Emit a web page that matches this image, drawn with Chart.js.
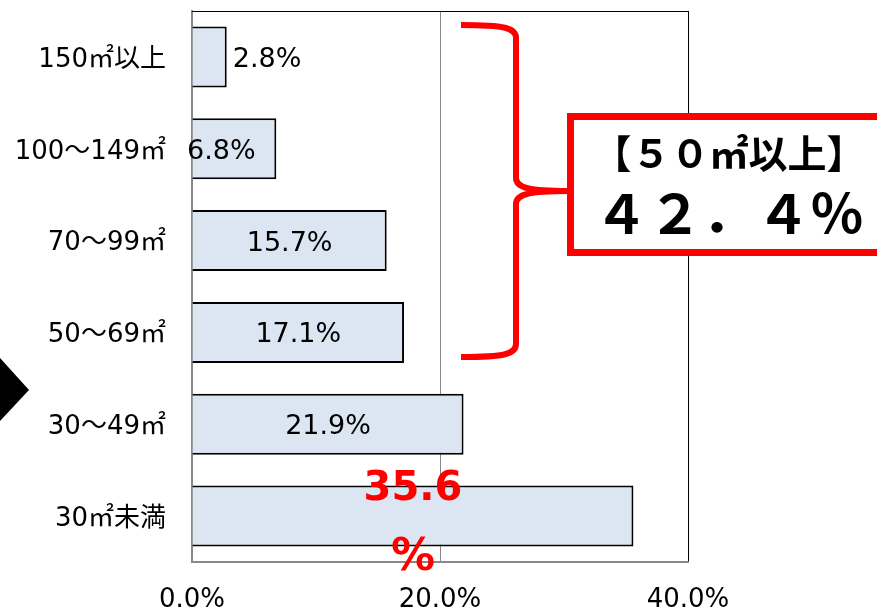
<!DOCTYPE html>
<html>
<head>
<meta charset="utf-8">
<script src="https://cdn.jsdelivr.net/npm/chart.js@4"></script>
<style>
  html, body { margin: 0; padding: 0; background: #fff; }
  #wrap { width: 877px; height: 612px; position: relative; }
</style>
</head>
<body>
<div id="wrap"><canvas id="chart"></canvas></div>
<script>
// data
var categories = ['150㎡以上', '100～149㎡', '70～99㎡', '50～69㎡', '30～49㎡', '30㎡未満'];
var shares = [2.8, 6.8, 15.7, 17.1, 21.9, 35.6];
var xTicks = [0, 20, 40];
var bracketTitle = '【５０㎡以上】';
var bracketValue = '４２．４％';

var baseFont = "'DejaVu Sans', 'Noto Sans CJK JP', sans-serif";
var cjkFont = "'Noto Sans CJK JP', 'DejaVu Sans', sans-serif";

// value labels on bars
var barLabels = {
    id: 'barLabels',
    afterDatasetsDraw: function(chart) {
        var ctx = chart.ctx;
        var meta = chart.getDatasetMeta(0);
        ctx.save();
        ctx.textBaseline = 'middle';
        meta.data.forEach(function(bar, i) {
            var v = shares[i];
            var txt = v.toFixed(1) + '%';
            var y = bar.y + 3;
            if (i == shares.length - 1) {
                // biggest one is highlighted in red, wrapped
                ctx.fillStyle = '#ff0000';
                ctx.font = 'bold 40px ' + baseFont;
                ctx.textAlign = 'center';
                var cx = (bar.x + bar.base) / 2;
                ctx.fillText(v.toFixed(1), cx, y - 29);
                ctx.font = 'bold 44px ' + baseFont;
                ctx.fillText('%', cx, y + 39);
                return;
            }
            ctx.fillStyle = '#000';
            ctx.font = '27px ' + baseFont;
            if (v < 5) {
                ctx.textAlign = 'left';
                ctx.fillText(txt, bar.x + 6, y);
            } else if (v < 10) {
                // short bar: excel pushed this one a bit left
                ctx.textAlign = 'center';
                ctx.fillText(txt, (bar.x + bar.base) / 2 - 13, y);
            } else {
                ctx.textAlign = 'center';
                ctx.fillText(txt, (bar.x + bar.base) / 2, y);
            }
        });
        ctx.restore();
    }
};

// frame top line, brace, callout box, left arrow
var extras = {
    id: 'extras',
    beforeDatasetsDraw: function(chart) {
        var ctx = chart.ctx, a = chart.chartArea;
        ctx.save();
        ctx.strokeStyle = '#000';
        ctx.lineWidth = 1;
        ctx.beginPath();
        ctx.moveTo(a.left, a.top + 0.5);
        ctx.lineTo(a.right + 0.5, a.top + 0.5);
        ctx.stroke();
        ctx.restore();
    },
    afterDraw: function(chart) {
        var ctx = chart.ctx;
        ctx.save();
        // black arrow head at left
        ctx.fillStyle = '#000';
        ctx.beginPath();
        ctx.moveTo(0, 358);
        ctx.lineTo(29, 390);
        ctx.lineTo(0, 421);
        ctx.closePath();
        ctx.fill();

        // red brace
        ctx.strokeStyle = '#ff0000';
        ctx.lineWidth = 6;
        ctx.lineCap = 'butt';
        ctx.beginPath();
        ctx.moveTo(461, 25);
        ctx.bezierCurveTo(505, 25, 516, 28, 516, 38);
        ctx.lineTo(516, 178);
        ctx.bezierCurveTo(516, 188, 530, 191, 568, 191);
        ctx.moveTo(568, 191);
        ctx.bezierCurveTo(530, 191, 516, 194, 516, 204);
        ctx.lineTo(516, 344);
        ctx.bezierCurveTo(516, 354, 505, 357, 461, 357);
        ctx.stroke();

        // callout box
        ctx.fillStyle = '#fff';
        ctx.fillRect(570, 116, 320, 137);
        ctx.lineWidth = 7;
        ctx.strokeRect(570.5, 116.5, 330, 136);

        ctx.fillStyle = '#000';
        ctx.textAlign = 'center';
        ctx.textBaseline = 'middle';
        ctx.font = 'bold 39px ' + cjkFont;
        ctx.fillText(bracketTitle, 729, 153);
        ctx.font = 'bold 54px ' + cjkFont;
        ctx.fillText(bracketValue, 729, 213);
        ctx.restore();
    }
};

var ctx = document.getElementById('chart');
var chart = new Chart(ctx, {
    type: 'bar',
    data: {
        labels: categories,
        datasets: [{
            data: shares,
            backgroundColor: '#dce6f2',
            borderColor: '#000',
            borderWidth: 2,
            borderSkipped: 'start',
            categoryPercentage: 1,
            barPercentage: 0.665
        }]
    },
    options: {
        indexAxis: 'y',
        responsive: true,
        maintainAspectRatio: false,
        animation: false,
        layout: { padding: { top: 11, right: 189, left: 0, bottom: 0 } },
        plugins: {
            legend: { display: false },
            tooltip: { enabled: false }
        },
        scales: {
            x: {
                min: 0,
                max: 40,
                afterBuildTicks: function(s) {
                    s.ticks = xTicks.map(function(v) { return { value: v }; });
                },
                afterFit: function(s) {
                    s.height = 50;
                    s.paddingLeft = 0;
                    s.paddingRight = 0;
                },
                ticks: {
                    color: '#000',
                    font: { family: baseFont, size: 26 },
                    padding: 23,
                    maxRotation: 0,
                    callback: function(v) { return Number(v).toFixed(1) + '%'; }
                },
                grid: {
                    drawTicks: false,
                    lineWidth: 1,
                    color: function(c) { return c.tick && c.tick.value == 40 ? '#000' : '#888'; }
                },
                border: { color: '#888', width: 2 }
            },
            y: {
                afterFit: function(s) {
                    s.width = 192;
                    s.paddingTop = 0;
                    s.paddingBottom = 0;
                },
                ticks: {
                    color: '#000',
                    font: { family: baseFont, size: 26 },
                    padding: 26,
                    labelOffset: 3
                },
                grid: { display: false, drawTicks: false },
                border: { color: '#888', width: 2 }
            }
        }
    },
    plugins: [barLabels, extras]
});
</script>
</body>
</html>
